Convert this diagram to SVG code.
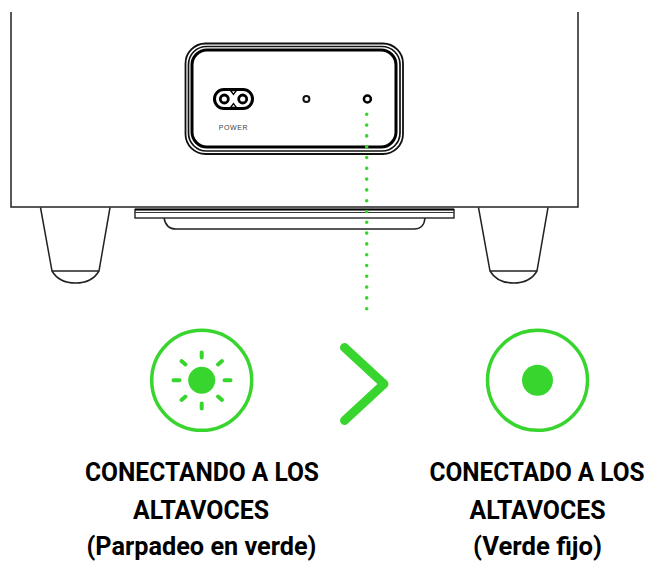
<svg xmlns="http://www.w3.org/2000/svg" width="649" height="561" viewBox="0 0 649 561">
<style>
.k{fill:none;stroke:#222;stroke-width:1.5}
.g{fill:none;stroke:#39d52f;stroke-linecap:round}
.t{font-family:"Roboto","Open Sans","Liberation Sans",sans-serif;font-weight:700;font-size:25px;fill:#000;text-anchor:middle}
</style>
<rect width="649" height="561" fill="#fff"/>
<g id="speaker">
<path class="k" d="M11 12V207H578V12"/>
<path class="k" d="M40.500 207.500L52 271H99L110 207.500M52 271Q59 283 75.500 283Q92 283 99 271"/>
<path class="k" d="M478.500 207.500L490 271H537L548 207.500M490 271Q497 283 513.500 283Q530 283 537 271"/>
<path class="k" d="M164 218Q166 229 176 229H414Q424 229 425 218"/>
<rect x="135" y="209.500" width="319" height="8.500" fill="#fff" stroke="#222" stroke-width="1.400"/>
<path d="M135 209.500H454" stroke="#000" stroke-width="2"/>
<path d="M135 212.500H454" stroke="#333" stroke-width="1.200"/>
</g>
<g id="panel">
<rect x="185.500" y="43.500" width="217.500" height="110.500" rx="20" fill="#fff" stroke="#111" stroke-width="1.800"/>
<rect x="188.500" y="46.500" width="211.500" height="104.500" rx="18" fill="none" stroke="#111" stroke-width="1.700"/>
<rect x="192" y="50" width="204" height="97" rx="15" fill="none" stroke="#000" stroke-width="3"/>
<path d="M224 89.500H243A9.500 9.500 0 0 1 243 108.500H224A9.500 9.500 0 0 1 224 89.500Z" fill="none" stroke="#000" stroke-width="3"/>
<circle cx="224.300" cy="99" r="4" fill="none" stroke="#000" stroke-width="2.800"/>
<circle cx="242.700" cy="99" r="4" fill="none" stroke="#000" stroke-width="2.800"/>
<path d="M230.500 90.500L233.500 94.500L236.500 90.500ZM230.500 107.500L233.500 103.500L236.500 107.500Z" fill="#fff" stroke="#000" stroke-width="1.300"/>
<text x="233.500" y="129.500" font-family="Liberation Sans,sans-serif" font-size="7" letter-spacing=".6" text-anchor="middle" fill="#444">POWER</text>
<circle cx="306.400" cy="99" r="3" fill="#fff" stroke="#111" stroke-width="2"/>
<circle cx="367.400" cy="99" r="3.500" fill="#fff" stroke="#000" stroke-width="2.500"/>
</g>
<g id="connectors">
<path class="g" d="M366.700 114.300V311" stroke-width="3.600" stroke-dasharray="0 10.800"/>
</g>
<g id="blinking">
<circle cx="201.700" cy="380.300" r="50" class="g" stroke-width="3.500"/>
<circle cx="201.700" cy="380.300" r="13.500" fill="#39d52f"/>
<path class="g" stroke-width="4" d="M201.700 352.500v5M201.700 403.500v5M173.500 380.300h6M224.500 380.300h6M181.500 361l4 3.500M222 361l-4 3.500M181.500 400l4-3.500M222 400l-4-3.500"/>
</g>
<g id="arrow">
<path class="g" stroke-width="9" d="M344.500 347.500L384 384L344.500 420.500" stroke-linejoin="round"/>
</g>
<g id="solid">
<circle cx="537.500" cy="380.300" r="50" class="g" stroke-width="3.500"/>
<circle cx="537.500" cy="380.300" r="15.500" fill="#39d52f"/>
</g>
<g id="labels">
<text class="t" x="202" y="480.500" textLength="234" lengthAdjust="spacingAndGlyphs">CONECTANDO A LOS</text>
<text class="t" x="201" y="518.500" textLength="136" lengthAdjust="spacingAndGlyphs">ALTAVOCES</text>
<text class="t" x="201.500" y="555" textLength="230" lengthAdjust="spacingAndGlyphs">(Parpadeo en verde)</text>
<text class="t" x="537" y="480.500" textLength="215" lengthAdjust="spacingAndGlyphs">CONECTADO A LOS</text>
<text class="t" x="537.500" y="518.500" textLength="136" lengthAdjust="spacingAndGlyphs">ALTAVOCES</text>
<text class="t" x="537.500" y="555" textLength="129" lengthAdjust="spacingAndGlyphs">(Verde fijo)</text>
</g>
</svg>
